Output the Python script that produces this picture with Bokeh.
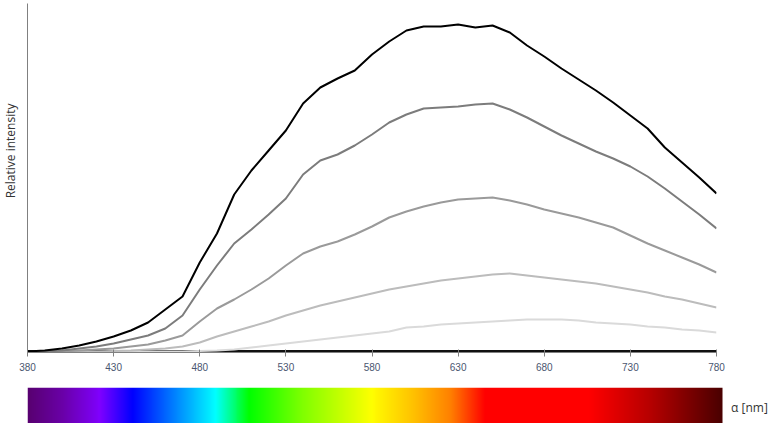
import numpy as np
from bokeh.plotting import figure
from bokeh.layouts import column, row
from bokeh.models import Range1d, Label, FixedTicker, Title
from bokeh.embed import file_html
from bokeh.resources import INLINE

# ---------------- data ----------------
wavelength = [380, 390, 400, 410, 420, 430, 440, 450, 460, 470,
              480, 490, 500, 510, 520, 530, 540, 550, 560, 570,
              580, 590, 600, 610, 620, 630, 640, 650, 660, 670,
              680, 690, 700, 710, 720, 730, 740, 750, 760, 770, 780]

series_1 = [1, 2, 4, 7, 11, 16, 22, 30, 43, 56,
            90, 119, 158, 182, 202, 222, 249, 265, 274, 282,
            298, 311, 322, 326, 326, 328, 325, 327, 320, 307,
            296, 284, 273, 262, 250, 237, 224, 205, 190, 175, 159]
series_2 = [0.5, 1, 2, 4, 6, 9, 13, 17, 24, 37,
            63, 87, 109, 123, 138, 154, 178, 192, 198, 207,
            218, 230, 238, 244, 245, 246, 248, 249, 243, 235,
            226, 217, 209, 201, 194, 186, 176, 164, 151, 138, 124]
series_3 = [0, 0.5, 1, 2, 3, 4, 6, 8, 12, 17,
            31, 44, 53, 63, 74, 87, 99, 106, 111, 118,
            126, 135, 141, 146, 150, 153, 154, 155, 152, 148,
            143, 139, 135, 130, 125, 117, 109, 102, 95, 88, 80]
series_4 = [0, 0, 0.5, 1, 1, 1.5, 2, 3, 4, 6,
            10, 16, 21, 26, 31, 37, 42, 47, 51, 55,
            59, 63, 66, 69, 72, 74, 76, 78, 79, 77,
            75, 73, 71, 69, 66, 63, 60, 56, 53, 49, 45]
series_5 = [0, 0, 0, 0.5, 0.5, 0.5, 0.5, 1, 1, 1,
            1.5, 2, 3, 5, 7, 9, 11, 13, 15, 17,
            19, 21, 25, 26, 28, 29, 30, 31, 32, 33,
            33, 33, 32, 30, 29, 28, 26, 25, 23, 22, 20]
series_0 = [1.5, 1.5, 1.5, 1.5, 1.5, 1.5, 1.5, 1.5, 1.5, 1.5,
            1.5, 1.5, 1.5, 1.5, 1.5, 1.5, 1.5, 1.5, 1.5, 1.5,
            1.5, 1.5, 1.5, 1.5, 1.5, 1.5, 1.5, 1.5, 1.5, 1.5,
            1.5, 1.5, 1.5, 1.5, 1.5, 1.5, 1.5, 1.5, 1.5, 1.5, 1.5]

series_list = [series_0, series_5, series_4, series_3, series_2, series_1]
series_colors = ["#111111", "#dadada", "#bcbcbc", "#9a9a9a", "#7c7c7c", "#000000"]

x_ticks = [380, 430, 480, 530, 580, 630, 680, 730, 780]

bar_nm = [380, 400, 422, 441, 465, 489, 509, 540, 580, 605, 626, 646, 707, 745, 784]
bar_colors = ["#580070", "#6a00a8", "#8000ff", "#0000ff", "#0080ff", "#00ffff", "#00ff00",
              "#80ff00", "#ffff00", "#ffc000", "#ff8000", "#ff0000", "#ff0000", "#b00000", "#4a0000"]

# ---------------- main plot ----------------
p = figure(width=774, height=387, output_backend="svg", toolbar_location=None,
           x_range=Range1d(380, 780), y_range=Range1d(0, 349),
           min_border_left=27, min_border_right=58, min_border_top=3, min_border_bottom=35)
p.outline_line_color = None
p.xgrid.visible = False
p.ygrid.visible = False

for vals, col in zip(series_list, series_colors):
    p.line(wavelength, vals, line_color=col, line_width=2)

p.xaxis.ticker = FixedTicker(ticks=x_ticks)
p.xaxis.minor_tick_line_color = None
p.xaxis.axis_line_color = "#808080"
p.xaxis.major_tick_line_color = "#808080"
p.xaxis.major_tick_in = 3
p.xaxis.major_tick_out = 4
p.xaxis.major_label_standoff = 6
p.xaxis.major_label_text_font = "Liberation Sans"
p.xaxis.major_label_text_font_size = "10px"
p.xaxis.major_label_text_color = "#4a5670"

p.yaxis.ticker = FixedTicker(ticks=[])
p.yaxis.minor_tick_line_color = None
p.yaxis.major_tick_line_color = None
p.yaxis.major_label_text_font_size = "0px"
p.yaxis.axis_line_color = "#808080"
# invisible spacer label pushing the title panel outward
p.yaxis.axis_label = "\u00a0"
p.yaxis.axis_label_text_font_size = "2px"
p.yaxis.axis_label_standoff = 2

ytitle = Title(text="Relative intensity", align="right", offset=100, standoff=0,
               vertical_align="top",
               text_font="Open Sans", text_font_size="12px", text_font_style="normal",
               text_color="#333333")
p.add_layout(ytitle, "left")

# ---------------- colour bar ----------------
bar_end = bar_nm[-1] + (bar_nm[-1] - bar_nm[0]) * (747 - 695) / 695
b = figure(width=774, height=36, output_backend="svg", toolbar_location=None,
           x_range=Range1d(bar_nm[0], bar_end), y_range=Range1d(0, 1),
           min_border_left=27, min_border_right=0, min_border_top=0, min_border_bottom=0)
b.outline_line_color = None
b.axis.visible = False
b.xgrid.visible = False
b.ygrid.visible = False

def hex_rgb(h):
    return [int(h[i:i + 2], 16) for i in (1, 3, 5)]

rgb = np.array([hex_rgb(c) for c in bar_colors], dtype=float)
ncol = 700
xs = np.linspace(bar_nm[0], bar_nm[-1], ncol)
img = np.zeros((1, ncol), dtype=np.uint32)
view = img.view(dtype=np.uint8).reshape((1, ncol, 4))
for ch in range(3):
    view[0, :, ch] = np.interp(xs, bar_nm, rgb[:, ch]).astype(np.uint8)
view[0, :, 3] = 255
b.image_rgba(image=[img], x=bar_nm[0], y=0, dw=bar_nm[-1] - bar_nm[0], dh=1)

alab = Label(x=789, y=0.45, text="α [nm]", text_align="left", text_baseline="middle",
             text_font="Open Sans", text_font_size="12px", text_color="#333333")
b.add_layout(alab)

layout = column(p, row(b), spacing=0)
open("out.html", "w").write(file_html(layout, INLINE))
